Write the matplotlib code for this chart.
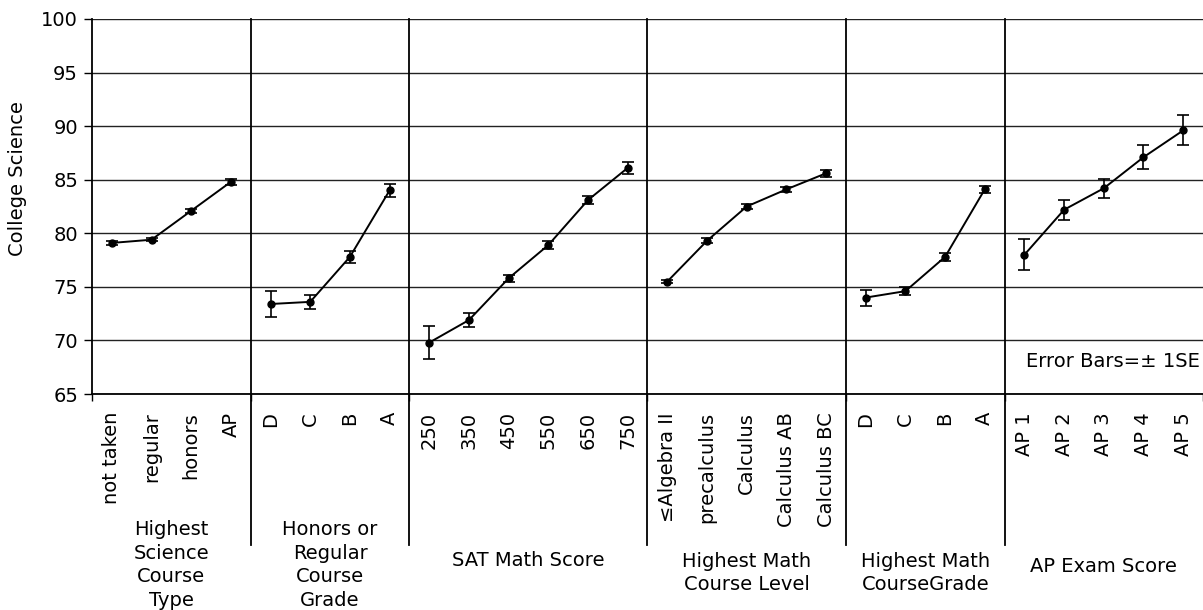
import matplotlib
matplotlib.use("Agg")
import matplotlib.pyplot as plt

# ── Data ─────────────────────────────────────────────────────
group_titles = ["Highest\nScience\nCourse\nType",
                "Honors or\nRegular\nCourse\nGrade",
                "SAT Math Score",
                "Highest Math\nCourse Level",
                "Highest Math\nCourseGrade",
                "AP Exam Score"]

sci_type_cats = ["not taken", "regular", "honors", "AP"]
sci_type_mean = [79.1, 79.4, 82.1, 84.8]
sci_type_se   = [0.15, 0.15, 0.2, 0.25]

sci_grade_cats = ["D", "C", "B", "A"]
sci_grade_mean = [73.4, 73.6, 77.8, 84.0]
sci_grade_se   = [1.25, 0.65, 0.55, 0.6]

sat_cats = ["250", "350", "450", "550", "650", "750"]
sat_mean = [69.8, 71.9, 75.8, 78.9, 83.1, 86.1]
sat_se   = [1.55, 0.65, 0.35, 0.4, 0.35, 0.55]

math_level_cats = ["≤Algebra II", "precalculus", "Calculus", "Calculus AB", "Calculus BC"]
math_level_mean = [75.5, 79.3, 82.5, 84.1, 85.6]
math_level_se   = [0.15, 0.25, 0.2, 0.25, 0.35]

math_grade_cats = ["D", "C", "B", "A"]
math_grade_mean = [74.0, 74.6, 77.8, 84.1]
math_grade_se   = [0.75, 0.4, 0.35, 0.35]

ap_cats = ["AP 1", "AP 2", "AP 3", "AP 4", "AP 5"]
ap_mean = [78.0, 82.2, 84.2, 87.1, 89.6]
ap_se   = [1.45, 0.95, 0.9, 1.1, 1.4]

panels = [
    (sci_type_cats, sci_type_mean, sci_type_se),
    (sci_grade_cats, sci_grade_mean, sci_grade_se),
    (sat_cats, sat_mean, sat_se),
    (math_level_cats, math_level_mean, math_level_se),
    (math_grade_cats, math_grade_mean, math_grade_se),
    (ap_cats, ap_mean, ap_se),
]
# vertical position of each group title (pixels from top)
title_px = [565, 565, 561, 573, 573, 567]

# ── Figure ───────────────────────────────────────────────────
plt.rcParams["font.family"] = ["DejaVu Sans"]
FS = 14
W, H = 1203, 610
fig = plt.figure(figsize=(W / 100, H / 100), dpi=100)
ax_l, ax_r, ax_t, ax_b = 92, 1203, 19, 394
ax = fig.add_axes([ax_l / W, 1 - ax_b / H, (ax_r - ax_l) / W, (ax_b - ax_t) / H])

def px_to_axes(y):
    return (ax_b - y) / (ax_b - ax_t)

start = 0
centers, labels, bounds = [], [], [0]
for (cats, mean, se), title, ty in zip(panels, group_titles, title_px):
    xs = [start + i + 0.5 for i in range(len(cats))]
    ax.errorbar(xs, mean, yerr=se, color="black", lw=1.4, marker="o", ms=5,
                capsize=4, capthick=1.2, elinewidth=1.2, zorder=3)
    centers += xs
    labels += cats
    mid = start + len(cats) / 2
    ax.text(mid, px_to_axes(ty), title, transform=ax.get_xaxis_transform(),
            ha="center", va="center", fontsize=FS, linespacing=1.3)
    start += len(cats)
    bounds.append(start)

# panel separators, running down through the tick labels
for b in bounds[1:-1]:
    ax.plot([b, b], [px_to_axes(545), 1.0], transform=ax.get_xaxis_transform(),
            color="black", lw=1.3, clip_on=False, zorder=4)

ax.set_xlim(0, start)
ax.set_ylim(65, 100)
ax.set_yticks(range(65, 101, 5))
ax.set_xticks(bounds)
ax.set_xticklabels([])
ax.set_xticks(centers, minor=True)
ax.set_xticklabels(labels, minor=True, rotation=90, fontsize=FS)
ax.tick_params(axis="x", which="minor", length=0, pad=13)
ax.tick_params(axis="x", which="major", length=5, width=1, direction="out")
ax.tick_params(axis="y", length=6, width=1, labelsize=FS, pad=4)

ax.yaxis.grid(True, color="#222222", lw=1)
ax.set_axisbelow(True)
for s in ["top", "right"]:
    ax.spines[s].set_visible(False)
ax.spines["left"].set_linewidth(1.3)
ax.spines["bottom"].set_linewidth(1.3)

fig.text(18 / W, 1 - 179 / H, "College Science", rotation=90,
         ha="center", va="center", fontsize=FS)
ax.text(27.92, 68, "Error Bars=± 1SE", ha="right", va="center", fontsize=FS)

fig.savefig("out.png", dpi=100)
